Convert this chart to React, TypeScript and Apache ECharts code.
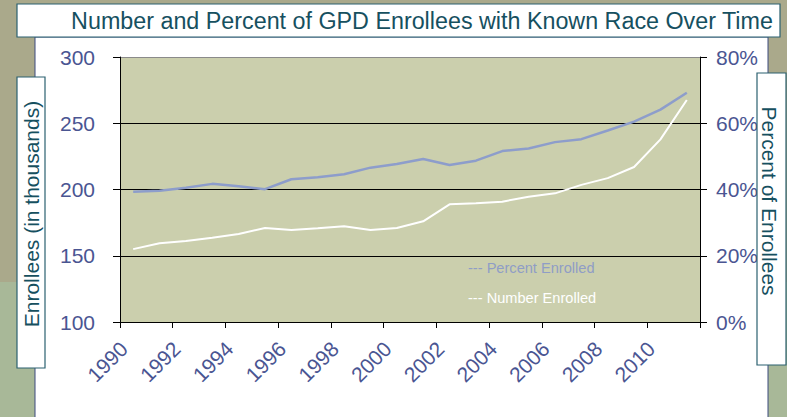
import React, { useEffect, useRef } from "react";
import * as echarts from "echarts";

const years = ["1990","1991","1992","1993","1994","1995","1996","1997","1998","1999","2000","2001","2002","2003","2004","2005","2006","2007","2008","2009","2010","2011"];
const numberEnrolled = [155, 159.4, 161.1, 163.6, 166.4, 170.9, 169.4, 170.7, 172.2, 169.4, 170.9, 176, 188.8, 189.6, 190.8, 194.6, 197.1, 203.5, 208.6, 217, 237.8, 267.5];
const percentEnrolled = [39.3, 39.6, 40.5, 41.7, 41.0, 40.1, 43.1, 43.7, 44.6, 46.6, 47.7, 49.2, 47.4, 48.7, 51.6, 52.4, 54.3, 55.2, 57.8, 60.5, 64.1, 69.2];

const titleText = "Number and Percent of GPD Enrollees with Known Race Over Time";
const leftAxisTitle = "Enrollees (in thousands)";
const rightAxisTitle = "Percent of Enrollees";
const legendPercent = "--- Percent Enrolled";
const legendNumber = "--- Number Enrolled";

const FONT = "'Liberation Sans', Arial, sans-serif";
const LABEL_COLOR = "#4a5592";
const TITLE_COLOR = "#16505f";

export default function App() {
  const ref = useRef<HTMLDivElement>(null);
  useEffect(() => {
    if (!ref.current) return;
    const chart = echarts.init(ref.current, null, { renderer: "svg" });
    chart.setOption({
      animation: false,
      backgroundColor: "transparent",
      grid: {
        left: 120, top: 57, right: 87, bottom: 95,
        show: true, backgroundColor: "#cbcfad", borderWidth: 0,
      },
      graphic: [
        { type: "rect", z: -10, shape: { x: 35, y: 37, width: 733, height: 390 },
          style: { fill: "#ffffff", stroke: "#3d4a7e", lineWidth: 1 } },
        { type: "rect", z: 100, shape: { x: 17, y: 4, width: 763, height: 33 },
          style: { fill: "#ffffff", stroke: "#2b6170", lineWidth: 1.2 } },
        { type: "text", z: 101, x: 422, y: 21,
          style: { text: titleText, fill: TITLE_COLOR, font: `23.3px ${FONT}`, align: "center", verticalAlign: "middle" } },
        { type: "rect", z: 100, shape: { x: 17, y: 77, width: 28, height: 291 },
          style: { fill: "#ffffff", stroke: "#2b6170", lineWidth: 1.2 } },
        { type: "text", z: 101, x: 31, y: 214, rotation: Math.PI / 2,
          style: { text: leftAxisTitle, fill: TITLE_COLOR, font: `21px ${FONT}`, align: "center", verticalAlign: "middle" } },
        { type: "rect", z: 100, shape: { x: 757, y: 73, width: 29, height: 292 },
          style: { fill: "#ffffff", stroke: "#2b6170", lineWidth: 1.2 } },
        { type: "text", z: 101, x: 769, y: 201, rotation: -Math.PI / 2,
          style: { text: rightAxisTitle, fill: TITLE_COLOR, font: `21px ${FONT}`, align: "center", verticalAlign: "middle" } },
        { type: "text", z: 101, x: 468, y: 268,
          style: { text: legendPercent, fill: "#8f9dc6", font: `14.6px ${FONT}`, align: "left", verticalAlign: "middle" } },
        { type: "text", z: 101, x: 468, y: 298,
          style: { text: legendNumber, fill: "#ffffff", font: `14.6px ${FONT}`, align: "left", verticalAlign: "middle" } },
      ],
      xAxis: {
        type: "category",
        data: years,
        boundaryGap: true,
        axisLine: { show: true, lineStyle: { color: "#000", width: 1 } },
        axisTick: { show: true, interval: 1, length: 6, lineStyle: { color: "#000" } },
        axisLabel: {
          interval: 1, rotate: 45, margin: 14, color: LABEL_COLOR,
          fontSize: 21, fontFamily: FONT,
          formatter: (v: string) => `{a|${v}}`,
          rich: { a: { fontSize: 21, fontFamily: FONT, color: LABEL_COLOR, padding: [0, 13, 0, 0] } },
        },
        splitLine: { show: false },
      },
      yAxis: [
        {
          type: "value", min: 100, max: 300, interval: 50, position: "left",
          axisLine: { show: true, lineStyle: { color: "#000" } },
          axisTick: { show: true, length: 7, lineStyle: { color: "#000" } },
          axisLabel: { color: LABEL_COLOR, fontSize: 21, fontFamily: FONT, margin: 25 },
          splitLine: { show: true, lineStyle: { color: ["#000", "#000", "#000", "#000", "#8a8a8a"], width: 1 } },
        },
        {
          type: "value", min: 0, max: 80, interval: 20, position: "right",
          axisLine: { show: true, lineStyle: { color: "#000" } },
          axisTick: { show: true, length: 7, lineStyle: { color: "#000" } },
          axisLabel: { color: LABEL_COLOR, fontSize: 21, fontFamily: FONT, margin: 16, formatter: "{value}%" },
          splitLine: { show: false },
        },
      ],
      series: [
        {
          name: "Percent Enrolled", type: "line", yAxisIndex: 1, data: percentEnrolled,
          symbol: "none", lineStyle: { color: "#8d9dcb", width: 2.5 }, z: 3,
        },
        {
          name: "Number Enrolled", type: "line", yAxisIndex: 0, data: numberEnrolled,
          symbol: "none", lineStyle: { color: "#ffffff", width: 2 }, z: 4,
        },
      ],
    });
    return () => chart.dispose();
  }, []);
  return (
    <div
      ref={ref}
      style={{
        position: "fixed", left: 0, top: 0, width: 787, height: 417,
        background: "linear-gradient(to bottom, #aaa98b 0px, #aaa98b 282px, #a8b898 282px, #a8b898 417px)",
      }}
    />
  );
}
